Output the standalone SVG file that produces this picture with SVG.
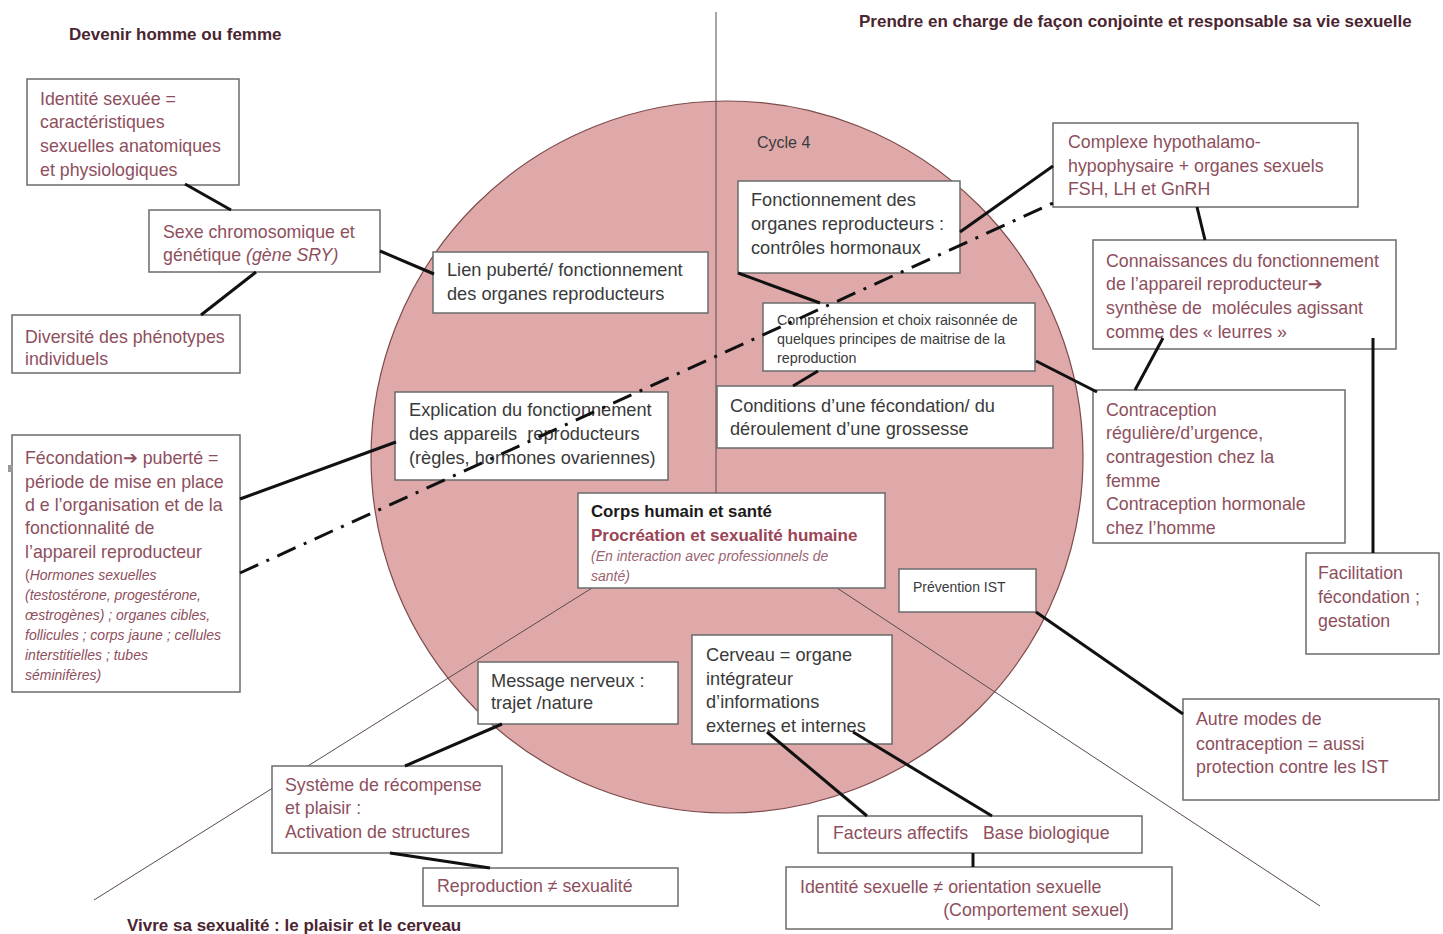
<svg xmlns="http://www.w3.org/2000/svg" width="1443" height="934" viewBox="0 0 1443 934">
<style>
.box{fill:#ffffff;stroke:#6b6b6b;stroke-width:1.5}
.t{font-family:"Liberation Sans",Arial,sans-serif;font-size:17.8px}
.m{fill:#8e4f5d}
.d{fill:#3a3a3a;font-size:18.2px}
.s{font-size:14px;font-style:italic}
.title{font-family:"Liberation Sans",Arial,sans-serif;font-size:17px;font-weight:bold;fill:#4a2530}
.conn{stroke:#111111;stroke-width:3;fill:none;stroke-linecap:butt}
.thin{stroke:#5a4a4a;stroke-width:1;fill:none}
.dashdot{stroke:#111111;stroke-width:3;fill:none;stroke-dasharray:20 9 3 9}
.arr{font-family:"DejaVu Sans",sans-serif;font-weight:bold}
</style>
<rect width="1443" height="934" fill="#ffffff"/>
<circle cx="727" cy="457" r="356" fill="#dfa9aa" stroke="#7d4b4b" stroke-width="1.2"/>
<g id="guides">
<line class="thin" x1="716" y1="12" x2="716" y2="493"/>
<line class="thin" x1="592" y1="588" x2="94" y2="900"/>
<line class="thin" x1="837" y1="588" x2="1320" y2="906"/>
</g>
<text class="title" x="69" y="40">Devenir homme ou femme</text>
<text class="title" x="859" y="27">Prendre en charge de façon conjointe et responsable sa vie sexuelle</text>
<text class="title" x="127" y="931">Vivre sa sexualité : le plaisir et le cerveau</text>
<text class="t d" x="757" y="148" style="font-size:16px">Cycle 4</text>

<g id="identite">
<rect class="box" x="27" y="79" width="212" height="106"/>
<text class="t m" x="40" y="105">Identité sexuée =</text>
<text class="t m" x="40" y="128">caractéristiques</text>
<text class="t m" x="40" y="152">sexuelles anatomiques</text>
<text class="t m" x="40" y="176">et physiologiques</text>
</g>
<g id="sexe">
<rect class="box" x="149" y="210" width="231" height="62"/>
<text class="t m" x="163" y="238">Sexe chromosomique et</text>
<text class="t m" x="163" y="261">génétique <tspan font-style="italic">(gène SRY)</tspan></text>
</g>
<g id="diversite">
<rect class="box" x="12" y="315" width="228" height="58"/>
<text class="t m" x="25" y="343">Diversité des phénotypes</text>
<text class="t m" x="25" y="365">individuels</text>
</g>
<g id="fecondation">
<rect class="box" x="12" y="435" width="228" height="257"/>
<rect x="8" y="465" width="5" height="7" fill="#999"/>
<text class="t m" x="25" y="464">Fécondation<tspan class="arr">➔</tspan> puberté =</text>
<text class="t m" x="25" y="488">période de mise en place</text>
<text class="t m" x="25" y="511">d e l’organisation et de la</text>
<text class="t m" x="25" y="534">fonctionnalité de</text>
<text class="t m" x="25" y="558">l’appareil reproducteur</text>
<text class="t m" x="25" y="580" style="font-size:14px">(<tspan font-style="italic">Hormones sexuelles</tspan></text>
<text class="t m s" x="25" y="600">(testostérone, progestérone,</text>
<text class="t m s" x="25" y="620">œstrogènes) ; organes cibles,</text>
<text class="t m s" x="25" y="640">follicules ; corps jaune ; cellules</text>
<text class="t m s" x="25" y="660">interstitielles ; tubes</text>
<text class="t m s" x="25" y="680">séminifères)</text>
</g>
<g id="lien">
<rect class="box" x="433" y="252" width="275" height="61"/>
<text class="t d" x="447" y="276">Lien puberté/ fonctionnement</text>
<text class="t d" x="447" y="300">des organes reproducteurs</text>
</g>
<g id="explication">
<rect class="box" x="395" y="392" width="273" height="88"/>
<text class="t d" x="409" y="416">Explication du fonctionnement</text>
<text class="t d" x="409" y="440" xml:space="preserve">des appareils  reproducteurs</text>
<text class="t d" x="409" y="464">(règles, hormones ovariennes)</text>
</g>
<g id="fonctionnement">
<rect class="box" x="738" y="181" width="222" height="92"/>
<text class="t d" x="751" y="206">Fonctionnement des</text>
<text class="t d" x="751" y="230">organes reproducteurs :</text>
<text class="t d" x="751" y="254">contrôles hormonaux</text>
</g>
<g id="comprehension">
<rect class="box" x="763" y="303" width="272" height="68"/>
<text class="t d" x="777" y="325" style="font-size:14.3px">Compréhension et choix raisonnée de</text>
<text class="t d" x="777" y="344" style="font-size:14.3px">quelques principes de maitrise de la</text>
<text class="t d" x="777" y="363" style="font-size:14.3px">reproduction</text>
</g>
<g id="conditions">
<rect class="box" x="717" y="386" width="336" height="62"/>
<text class="t d" x="730" y="412">Conditions d’une fécondation/ du</text>
<text class="t d" x="730" y="435">déroulement d’une grossesse</text>
</g>
<g id="corps">
<rect class="box" x="578" y="493" width="307" height="95"/>
<text class="t" x="591" y="517" style="font-size:16.8px;font-weight:bold;fill:#1a1a1a">Corps humain et santé</text>
<text class="t" x="591" y="541" style="font-size:17px;font-weight:bold;fill:#9a4455">Procréation et sexualité humaine</text>
<text class="t" x="591" y="561" style="font-size:14px;font-style:italic;fill:#9a6470">(En interaction avec professionnels de</text>
<text class="t" x="591" y="581" style="font-size:14px;font-style:italic;fill:#9a6470">santé)</text>
</g>
<g id="prevention">
<rect class="box" x="899" y="569" width="137" height="43"/>
<text class="t d" x="913" y="592" style="font-size:14px">Prévention IST</text>
</g>
<g id="message">
<rect class="box" x="478" y="662" width="200" height="62"/>
<text class="t d" x="491" y="687">Message nerveux :</text>
<text class="t d" x="491" y="709">trajet /nature</text>
</g>
<g id="cerveau">
<rect class="box" x="692" y="635" width="200" height="109"/>
<text class="t d" x="706" y="661">Cerveau = organe</text>
<text class="t d" x="706" y="685">intégrateur</text>
<text class="t d" x="706" y="708">d’informations</text>
<text class="t d" x="706" y="732">externes et internes</text>
</g>
<g id="systeme">
<rect class="box" x="272" y="766" width="230" height="87"/>
<text class="t m" x="285" y="791">Système de récompense</text>
<text class="t m" x="285" y="814">et plaisir :</text>
<text class="t m" x="285" y="838">Activation de structures</text>
</g>
<g id="reproduction">
<rect class="box" x="423" y="868" width="255" height="38"/>
<text class="t m" x="437" y="892">Reproduction ≠ sexualité</text>
</g>
<g id="facteurs">
<rect class="box" x="818" y="816" width="324" height="37"/>
<text class="t m" x="833" y="839">Facteurs affectifs<tspan x="983">Base biologique</tspan></text>
</g>
<g id="identite-sexuelle">
<rect class="box" x="786" y="867" width="386" height="62"/>
<text class="t m" x="800" y="893">Identité sexuelle ≠ orientation sexuelle</text>
<text class="t m" x="1129" y="916" text-anchor="end">(Comportement sexuel)</text>
</g>
<g id="complexe">
<rect class="box" x="1053" y="123" width="305" height="84"/>
<text class="t m" x="1068" y="148">Complexe hypothalamo-</text>
<text class="t m" x="1068" y="172">hypophysaire + organes sexuels</text>
<text class="t m" x="1068" y="195">FSH, LH et GnRH</text>
</g>
<g id="connaissances">
<rect class="box" x="1093" y="240" width="303" height="109"/>
<text class="t m" x="1106" y="267">Connaissances du fonctionnement</text>
<text class="t m" x="1106" y="290">de l’appareil reproducteur<tspan class="arr">➔</tspan></text>
<text class="t m" x="1106" y="314" xml:space="preserve">synthèse de  molécules agissant</text>
<text class="t m" x="1106" y="338">comme des « leurres »</text>
</g>
<g id="contraception">
<rect class="box" x="1093" y="390" width="252" height="153"/>
<text class="t m" x="1106" y="416">Contraception</text>
<text class="t m" x="1106" y="439">régulière/d’urgence,</text>
<text class="t m" x="1106" y="463">contragestion chez la</text>
<text class="t m" x="1106" y="487">femme</text>
<text class="t m" x="1106" y="510">Contraception hormonale</text>
<text class="t m" x="1106" y="534">chez l’homme</text>
</g>
<g id="facilitation">
<rect class="box" x="1306" y="553" width="133" height="101"/>
<text class="t m" x="1318" y="579">Facilitation</text>
<text class="t m" x="1318" y="603">fécondation ;</text>
<text class="t m" x="1318" y="627">gestation</text>
</g>
<g id="autre">
<rect class="box" x="1183" y="699" width="256" height="101"/>
<text class="t m" x="1196" y="725">Autre modes de</text>
<text class="t m" x="1196" y="750">contraception = aussi</text>
<text class="t m" x="1196" y="773">protection contre les IST</text>
</g>

<g id="connectors">
<line class="conn" x1="185" y1="184" x2="231" y2="210"/>
<line class="conn" x1="380" y1="251" x2="434" y2="274"/>
<line class="conn" x1="256" y1="272" x2="201" y2="315"/>
<line class="conn" x1="240" y1="499" x2="396" y2="442"/>
<line class="conn" x1="738" y1="273" x2="820" y2="303"/>
<line class="conn" x1="960" y1="232" x2="1053" y2="166"/>
<line class="conn" x1="818" y1="371" x2="793" y2="386"/>
<line class="conn" x1="1036" y1="361" x2="1097" y2="392"/>
<line class="conn" x1="1197" y1="207" x2="1205" y2="240"/>
<line class="conn" x1="1163" y1="338" x2="1135" y2="390"/>
<line class="conn" x1="1373" y1="338" x2="1373" y2="553"/>
<line class="conn" x1="1036" y1="612" x2="1183" y2="714"/>
<line class="conn" x1="502" y1="724" x2="405" y2="766"/>
<line class="conn" x1="390" y1="853" x2="490" y2="868"/>
<line class="conn" x1="767" y1="732" x2="867" y2="816"/>
<line class="conn" x1="853" y1="732" x2="992" y2="816"/>
<line class="conn" x1="973" y1="853" x2="973" y2="867"/>
<line class="dashdot" x1="240" y1="573" x2="1053" y2="203"/>
</g>
</svg>
